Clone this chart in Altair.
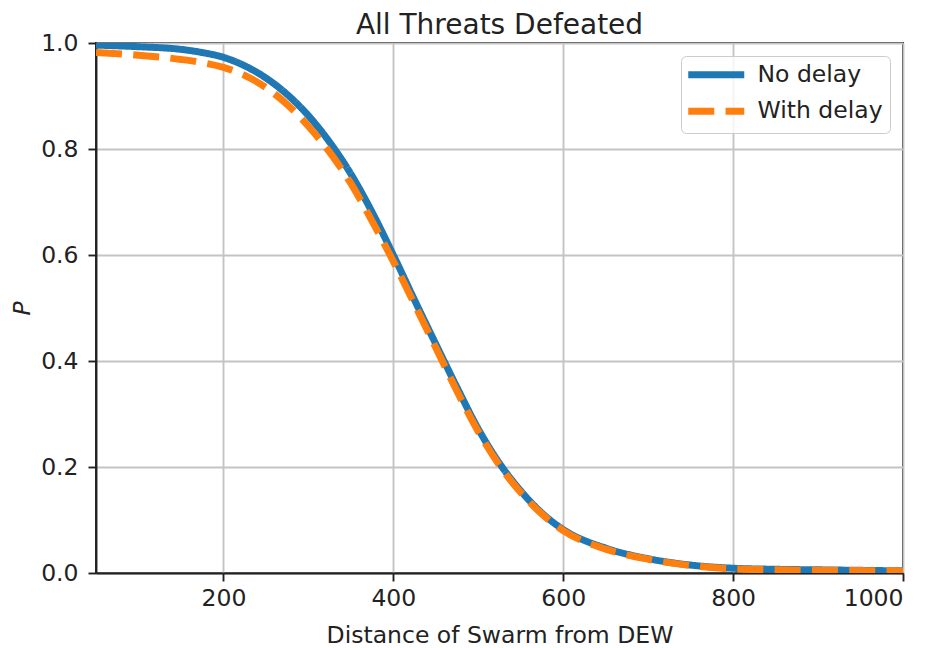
import altair as alt
import pandas as pd

distance = [50, 100, 150, 175, 200, 225, 250, 275, 300, 325, 350, 375, 400, 425, 450,
            475, 500, 525, 550, 575, 600, 650, 700, 750, 800, 850, 900, 950, 1000]
no_delay = [0.996, 0.993, 0.988, 0.982, 0.973, 0.957, 0.934, 0.903, 0.863, 0.813,
            0.753, 0.681, 0.600, 0.515, 0.432, 0.350, 0.272, 0.207, 0.155, 0.113,
            0.082, 0.047, 0.027, 0.015, 0.009, 0.007, 0.006, 0.005, 0.004]
with_delay = [0.982, 0.977, 0.969, 0.963, 0.954, 0.939, 0.916, 0.884, 0.843, 0.794,
              0.735, 0.664, 0.588, 0.507, 0.425, 0.343, 0.267, 0.203, 0.152, 0.111,
              0.080, 0.045, 0.026, 0.014, 0.008, 0.006, 0.005, 0.0045, 0.004]
series = ["No delay", "With delay"]
x_ticks = [200, 400, 600, 800, 1000]
y_ticks = [0.0, 0.2, 0.4, 0.6, 0.8, 1.0]

rows = []
for d, a, b in zip(distance, no_delay, with_delay):
    rows.append({"d": d, "p": a, "s": series[0]})
    rows.append({"d": d, "p": b, "s": series[1]})
df = pd.DataFrame(rows)

FONT = "DejaVu Sans"
FS = 23.5
LW = 7

chart = alt.Chart(df).mark_line(strokeWidth=LW, interpolate="monotone", clip=True).encode(
    x=alt.X("d:Q", title="Distance of Swarm from DEW",
            scale=alt.Scale(domain=[50, 1000], nice=False, zero=False),
            axis=alt.Axis(values=x_ticks, format="d", titlePadding=14, labelPadding=5)),
    y=alt.Y("p:Q", title="P",
            scale=alt.Scale(domain=[0, 1], nice=False),
            axis=alt.Axis(values=y_ticks, format=".1f", titleFontStyle="italic",
                          titlePadding=6, labelPadding=10)),
    color=alt.Color("s:N", scale=alt.Scale(domain=series, range=["#1f77b4", "#ff7f0e"]),
                    legend=alt.Legend(title=None, orient="top-right", offset=13,
                                      symbolType="M-1.4375,0H5.5625", symbolSize=256,
                                      symbolStrokeWidth=LW, labelFontSize=FS,
                                      labelFont=FONT, labelColor="#222",
                                      labelOffset=46, padding=7, rowPadding=7.5,
                                      strokeColor="#cccccc", fillColor="rgba(255,255,255,0.8)",
                                      cornerRadius=5)),
    strokeDash=alt.StrokeDash("s:N", scale=alt.Scale(domain=series, range=[[1, 0], [26, 11.3]]),
                              legend=None),
    detail="s:N",
).properties(
    width=807, height=530,
    title=alt.TitleParams("All Threats Defeated", font=FONT, fontSize=28,
                          fontWeight="normal", color="#222", offset=0, dy=9),
    autosize=alt.AutoSizeParams(type="none"),
    padding={"left": 88, "top": 35, "right": 26, "bottom": 75},
).configure_axis(
    labelFont=FONT, labelFontSize=FS, labelColor="#222",
    titleFont=FONT, titleFontSize=FS, titleColor="#222", titleFontWeight="normal",
    domainColor="#222", domainWidth=1.9, tickColor="#222", tickWidth=1.9, tickSize=8,
    gridColor="#c4c4c4", gridWidth=1.9,
).configure_view(
    stroke="#222", strokeWidth=1.9,
)

chart.save("out.html", embed_options={"renderer": "svg", "actions": False})
